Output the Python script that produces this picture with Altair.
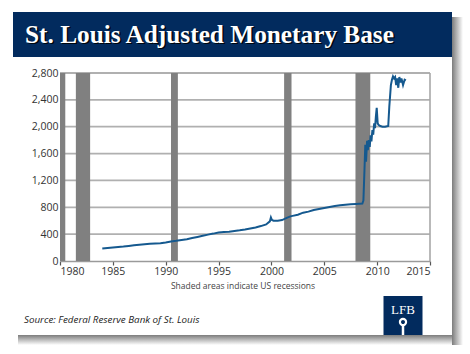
import altair as alt
import pandas as pd

# ---- data ----
years = [1984.0, 1984.5, 1985.0, 1985.5, 1986.0, 1986.5, 1987.0, 1987.5, 1988.0, 1988.5,
         1989.0, 1989.5, 1990.0, 1990.5, 1991.0, 1991.5, 1992.0, 1992.5, 1993.0, 1993.5,
         1994.0, 1994.5, 1995.0, 1995.5, 1996.0, 1996.5, 1997.0, 1997.5, 1998.0, 1998.5,
         1999.0, 1999.5, 1999.85, 1999.95, 2000.05, 2000.2, 2000.6, 2001.0, 2001.5, 2001.8,
         2002.0, 2002.5, 2003.0, 2003.5, 2004.0, 2004.5, 2005.0, 2005.5, 2006.0, 2006.5,
         2007.0, 2007.5, 2008.0, 2008.6, 2008.7, 2008.8, 2008.88, 2008.95, 2009.05, 2009.12,
         2009.2, 2009.3, 2009.38, 2009.46, 2009.55, 2009.63, 2009.72, 2009.8, 2009.88, 2009.96,
         2010.05, 2010.12, 2010.2, 2010.3, 2010.5, 2010.75, 2011.05, 2011.15, 2011.3, 2011.4,
         2011.5, 2011.6, 2011.7, 2011.8, 2011.9, 2012.0, 2012.1, 2012.2, 2012.3, 2012.45,
         2012.6, 2012.72]
values = [185, 192, 200, 208, 215, 225, 235, 242, 250, 258,
          262, 265, 275, 290, 300, 312, 325, 342, 358, 375,
          393, 408, 425, 432, 435, 448, 458, 470, 485, 500,
          520, 545, 590, 650, 610, 600, 600, 610, 645, 665,
          672, 690, 720, 735, 760, 775, 790, 805, 820, 830,
          838, 845, 850, 855, 900, 1350, 1730, 1480, 1790, 1650,
          1800, 1700, 1870, 1780, 1950, 1880, 2050, 1980, 2150, 2280,
          2050, 2030, 2020, 2010, 2000, 2000, 2010, 2300, 2620, 2700,
          2750, 2720, 2740, 2620, 2720, 2580, 2740, 2660, 2720, 2620,
          2700, 2690]

rec_start = [1980.0, 1981.5, 1990.5, 2001.2, 2007.95]
rec_end = [1980.5, 1982.85, 1991.15, 2001.9, 2009.35]

y_ticks = [0, 400, 800, 1200, 1600, 2000, 2400, 2800]
grid_values = [400, 800, 1200, 1600, 2000, 2400, 2800]
x_ticks = [1980, 1985, 1990, 1995, 2000, 2005, 2010, 2015]

title_text = "St. Louis Adjusted Monetary Base"
note_text = "Shaded areas indicate US recessions"
source_text = "Source: Federal Reserve Bank of St. Louis"
logo_text = "LFB"

line_df = pd.DataFrame({"year": years, "base": values})
rec_df = pd.DataFrame({"start": rec_start, "end": rec_end})
grid_df = pd.DataFrame({"gv": grid_values})
border_df = pd.DataFrame({"bx": [2015]})


def blank():
    return alt.Data(values=[{"k": 1}])


NAVY = "#022b5e"
xs = alt.Scale(domain=[1980, 2015], nice=False, zero=False)
ys = alt.Scale(domain=[0, 2800], nice=False)

x_axis = alt.Axis(values=x_ticks, format="d", title=None, grid=False,
                  domainColor="#9a9a9a", domainWidth=1.6, tickColor="#555555",
                  tickSize=4, tickWidth=1.2, labelFont="Open Sans", labelFontSize=10.5,
                  labelColor="#333333", labelPadding=1, labelOverlap=False)
y_axis = alt.Axis(values=y_ticks, format=",d", title=None, grid=False, domain=False,
                  ticks=False, labelFont="Open Sans", labelFontSize=10.5,
                  labelColor="#333333", labelPadding=2, labelOverlap=False)

# ---- decorations (pixel positions relative to plot origin) ----
shadow_right = alt.Chart(blank()).mark_rect(
    fill=alt.Gradient(gradient="linear", x1=0, x2=1, y1=0, y2=0,
                      stops=[alt.GradientStop(color="#7c7c7c", offset=0),
                             alt.GradientStop(color="#ffffff", offset=1)])
).encode(x=alt.value(392), x2=alt.value(403), y=alt.value(-56), y2=alt.value(272))

shadow_bottom = alt.Chart(blank()).mark_rect(
    fill=alt.Gradient(gradient="linear", x1=0, x2=0, y1=0, y2=1,
                      stops=[alt.GradientStop(color="#7c7c7c", offset=0),
                             alt.GradientStop(color="#ffffff", offset=1)])
).encode(x=alt.value(-42), x2=alt.value(392), y=alt.value(262), y2=alt.value(272))

banner = alt.Chart(blank()).mark_rect(fill=NAVY).encode(
    x=alt.value(-47), x2=alt.value(392), y=alt.value(-61), y2=alt.value(-16))

title_shadow = alt.Chart(blank()).mark_text(
    text=title_text, font="Liberation Serif", fontWeight="bold", fontSize=25.3,
    align="left", baseline="alphabetic", color="#000000", opacity=0.85
).encode(x=alt.value(-33.5), y=alt.value(-28.8))

title = alt.Chart(blank()).mark_text(
    text=title_text, font="Liberation Serif", fontWeight="bold", fontSize=25.3,
    align="left", baseline="alphabetic", color="#ffffff"
).encode(x=alt.value(-35), y=alt.value(-30.5))

# ---- plot ----
grid = alt.Chart(grid_df).mark_rule(color="#b0b0b0", strokeWidth=1.8).encode(
    y=alt.Y("gv:Q", scale=ys, axis=y_axis), x=alt.value(0), x2=alt.value(370))

bars = alt.Chart(rec_df).mark_rect(color="#808080").encode(
    x=alt.X("start:Q", scale=xs, axis=x_axis),
    x2="end:Q",
    y=alt.value(0), y2=alt.value(188))

right_border = alt.Chart(border_df).mark_rule(color="#a8a8a8", strokeWidth=1.6).encode(
    x=alt.X("bx:Q", scale=xs, axis=x_axis), y=alt.value(0), y2=alt.value(188))

line = alt.Chart(line_df).mark_line(color="#15598f", strokeWidth=2).encode(
    x=alt.X("year:Q", scale=xs, axis=x_axis),
    y=alt.Y("base:Q", scale=ys, axis=y_axis))

note = alt.Chart(blank()).mark_text(
    text=note_text, font="Open Sans", fontSize=8.5, color="#444444", align="center",
    baseline="middle").encode(x=alt.value(183), y=alt.value(213))

source = alt.Chart(blank()).mark_text(
    text=source_text, font="Open Sans", fontStyle="italic", fontSize=9.8, color="#222222",
    align="left", baseline="alphabetic").encode(x=alt.value(-36), y=alt.value(250))

logo_box = alt.Chart(blank()).mark_rect(fill=NAVY).encode(
    x=alt.value(323.5), x2=alt.value(362.5), y=alt.value(223), y2=alt.value(262))

logo_txt = alt.Chart(blank()).mark_text(
    text=logo_text, font="Liberation Serif", fontSize=13, color="#ffffff", align="center",
    baseline="alphabetic").encode(x=alt.value(343), y=alt.value(240.5))

logo_ring = alt.Chart(blank()).mark_point(shape="circle", size=38, filled=False, stroke="#ffffff",
                                          strokeWidth=2.2, opacity=1).encode(
    x=alt.value(343), y=alt.value(249))

logo_shaft = alt.Chart(blank()).mark_rule(color="#ffffff", strokeWidth=2.5).encode(
    x=alt.value(343), y=alt.value(252.5), y2=alt.value(262))

chart = alt.layer(
    shadow_right, shadow_bottom, banner, title_shadow, title,
    grid, bars, right_border, line, note, source, logo_box, logo_txt, logo_ring, logo_shaft
).properties(
    width=370, height=188, autosize="none",
    padding={"left": 60, "top": 73, "right": 40, "bottom": 93},
    background="#ffffff"
).configure_view(stroke=None)

chart.save("out.html", embed_options={"renderer": "svg", "actions": False})
